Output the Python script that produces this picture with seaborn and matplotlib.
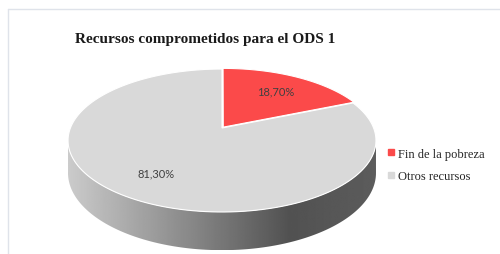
import numpy as np
import matplotlib.pyplot as plt
import seaborn as sns
from matplotlib.patches import Polygon
from matplotlib.lines import Line2D

# data
labels = ["Fin de la pobreza", "Otros recursos"]
values = [18.70, 81.30]
pct_text = ["18,70%", "81,30%"]
colors = ["#fb4a4a", "#d9d9d9"]
title = "Recursos comprometidos para el ODS 1"

sns.set_theme(style="white")
plt.rcParams["font.family"] = ["Liberation Serif", "DejaVu Serif"]

fig = plt.figure(figsize=(5, 2.55), dpi=100)
ax = fig.add_axes([0, 0, 1, 1])
ax.set_xlim(0, 500)
ax.set_ylim(255, 0)
ax.axis("off")

# 3D pie geometry (simple perspective on a flat disk)
cx, cy = 222, 129
a, b, k, h = 151.6, 69.3, 0.175, 31.5


def proj(u, v, z=0.0):
    w = 1 - k * v
    return cx + a * u / w, cy + (b * v + z * h) / w


def disk(theta, r=1.0, du=0.0, dv=0.0):
    # theta in degrees, clockwise from 12 o'clock
    t = np.radians(theta)
    return r * np.sin(t) + du, -r * np.cos(t) + dv


# side of the pie (front half)
t0 = np.degrees(np.arccos(-k))
ts = np.linspace(t0, 360 - t0, 200)
u, v = disk(ts)
top = np.array([proj(uu, vv, 0) for uu, vv in zip(u, v)])
bot = np.array([proj(uu, vv, 1) for uu, vv in zip(u, v)])
side_pts = np.vstack([top, bot[::-1]])
side = Polygon(side_pts, closed=True, facecolor="none", edgecolor="none")
ax.add_patch(side)
xs = np.linspace(side_pts[:, 0].min(), side_pts[:, 0].max(), 300)
shade = np.interp(xs, [66, 290, 374], [0.80, 0.32, 0.36])
img = ax.imshow(shade[np.newaxis, :], cmap="gray", vmin=0, vmax=1, aspect="auto",
                extent=[xs[0], xs[-1], side_pts[:, 1].max(), side_pts[:, 1].min()],
                interpolation="bilinear", zorder=1)
img.set_clip_path(side)

# top face wedges
explode = [0.015, 0.0]
start = 0.0
for val, col, lab, ex in zip(values, colors, pct_text, explode):
    span = 360.0 * val / sum(values)
    mid = start + span / 2
    du, dv = disk(mid, ex)
    th = np.linspace(start, start + span, 150)
    uu, vv = disk(th, 1.0, du, dv)
    pts = [proj(du, dv)] + [proj(p, q) for p, q in zip(uu, vv)]
    ax.add_patch(Polygon(pts, closed=True, facecolor=col, edgecolor="white",
                         linewidth=0.8, zorder=2))
    lu, lv = disk(mid, 0.7)
    lx, ly = proj(lu, lv)
    ax.text(lx, ly, lab, ha="center", va="center", fontsize=8, color="#404040",
            family=["Lato", "DejaVu Sans"], zorder=3)
    start += span

# title
ax.text(205, 40, title, ha="center", va="center", fontsize=11, fontweight="bold",
        color="#1a1a1a")

# legend
handles = [Line2D([], [], marker="s", linestyle="", color=c, markersize=4.5) for c in colors]
ax.legend(handles, labels, loc="center left", bbox_to_anchor=(381, 166),
          bbox_transform=ax.transData, frameon=False, fontsize=9,
          handlelength=0.6, handletextpad=0.3, labelspacing=0.85, borderpad=0)

# chart frame
ax.plot([8, 500], [10, 10], color="#dfe3ea", lw=1.0)
ax.plot([8, 8], [10, 255], color="#dfe3ea", lw=1.0)

plt.savefig("out.png", dpi=100)
